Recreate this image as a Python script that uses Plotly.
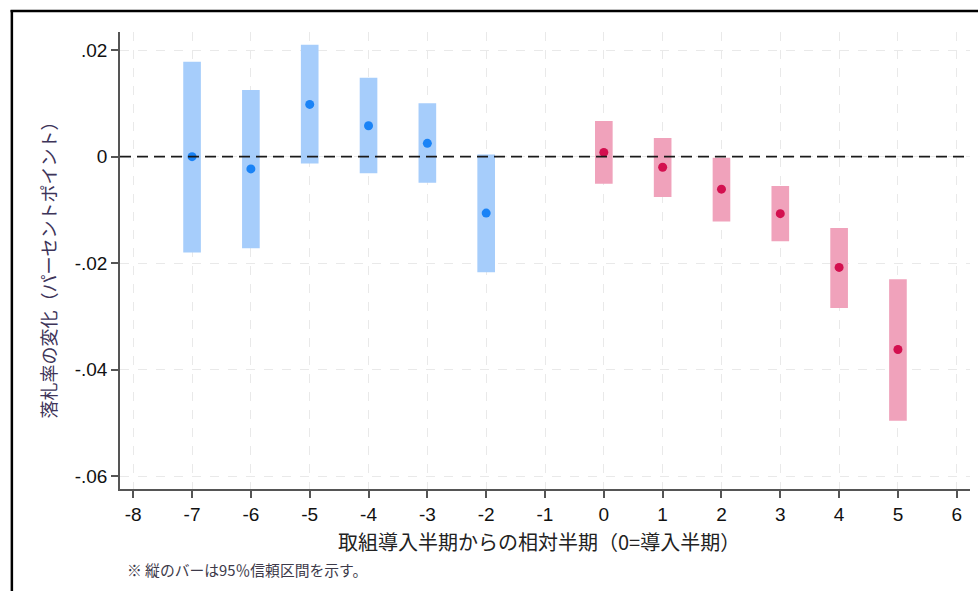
import plotly.graph_objects as go

# Event-study estimates with 95% confidence intervals
pre_periods = [-7, -6, -5, -4, -3, -2]
pre_coef = [0.0000, -0.0023, 0.0098, 0.0058, 0.0025, -0.0106]
pre_lo = [-0.0180, -0.0172, -0.0013, -0.0031, -0.0049, -0.0217]
pre_hi = [0.0178, 0.0125, 0.0210, 0.0148, 0.0100, 0.0004]

post_periods = [0, 1, 2, 3, 4, 5]
post_coef = [0.0008, -0.0020, -0.0061, -0.0107, -0.0208, -0.0362]
post_lo = [-0.0051, -0.0076, -0.0122, -0.0159, -0.0284, -0.0496]
post_hi = [0.0067, 0.0035, -0.0002, -0.0055, -0.0134, -0.0230]

x_ticks = list(range(-8, 7))
y_ticks = [0.02, 0, -0.02, -0.04, -0.06]
y_tick_text = [".02", "0", "-.02", "-.04", "-.06"]

BLUE_BAR, BLUE_DOT = "#a6cdfb", "#1a83f6"
PINK_BAR, PINK_DOT = "#f0a2bb", "#d3104f"

fig = go.Figure()

for xs, lo, hi, col in [(pre_periods, pre_lo, pre_hi, BLUE_BAR),
                        (post_periods, post_lo, post_hi, PINK_BAR)]:
    fig.add_trace(go.Bar(
        x=xs, base=lo, y=[h - l for h, l in zip(hi, lo)],
        width=0.3, marker=dict(color=col, line=dict(width=0)),
        showlegend=False, hoverinfo="skip"))

for xs, ys, col in [(pre_periods, pre_coef, BLUE_DOT),
                    (post_periods, post_coef, PINK_DOT)]:
    fig.add_trace(go.Scatter(
        x=xs, y=ys, mode="markers",
        marker=dict(color=col, size=9, line=dict(width=0)),
        showlegend=False))

# zero reference line
fig.add_hline(y=0, line=dict(color="#1a1a1a", width=1.8, dash="11px,6px"), layer="above")

tick_font = dict(family="Liberation Sans, Arial, sans-serif", size=19, color="#111111")
axis_col = "#555555"

fig.update_xaxes(
    range=[-8.225, 6.225], tickvals=x_ticks, ticktext=[str(v) for v in x_ticks],
    showline=True, linecolor=axis_col, linewidth=1.5,
    ticks="outside", ticklen=7, tickwidth=1.5, tickcolor=axis_col,
    showgrid=True, gridcolor="#e9e9e9", gridwidth=1, griddash="dash",
    zeroline=False, tickfont=tick_font, fixedrange=True)
fig.update_yaxes(
    range=[-0.0624, 0.0234], tickvals=y_ticks, ticktext=y_tick_text,
    showline=True, linecolor=axis_col, linewidth=1.5,
    ticks="outside", ticklen=7, tickwidth=1.5, tickcolor=axis_col,
    showgrid=True, gridcolor="#e9e9e9", gridwidth=1, griddash="dash",
    zeroline=False, tickfont=tick_font, fixedrange=True)

W, H = 978, 591
L, R, T, B = 119.5, 8, 32, 102
pw, ph = W - L - R, H - T - B


def px(x):
    return (x - L) / pw


def py(y):
    return (H - B - y) / ph


cjk = "Noto Sans CJK JP, sans-serif"
fig.update_layout(
    width=W, height=H,
    margin=dict(l=L, r=R, t=T, b=B),
    plot_bgcolor="white", paper_bgcolor="white",
    barmode="overlay",
    annotations=[
        dict(text="落札率の変化（パーセントポイント）", textangle=-90,
             x=px(47), y=py(266), xref="paper", yref="paper",
             xanchor="center", yanchor="middle",
             showarrow=False, font=dict(family=cjk, size=18, color="#3d3459")),
        dict(text="取組導入半期からの相対半期（0=導入半期）",
             x=px(539), y=py(541), xref="paper", yref="paper",
             xanchor="center", yanchor="middle",
             showarrow=False, font=dict(family=cjk, size=20, color="#222222")),
        dict(text="※ 縦のバーは95％信頼区間を示す。", xanchor="left", yanchor="middle",
             x=px(125), y=py(569), xref="paper", yref="paper",
             showarrow=False, font=dict(family=cjk, size=14.8, color="#3d3a4a")),
    ],
    shapes=[
        dict(type="line", xref="paper", yref="paper",
             x0=px(0), x1=px(W + 5), y0=py(9), y1=py(9),
             line=dict(color="#bbbbbb", width=1)),
        dict(type="line", xref="paper", yref="paper",
             x0=px(10), x1=px(W + 5), y0=py(11), y1=py(11),
             line=dict(color="#000000", width=2.5)),
        dict(type="line", xref="paper", yref="paper",
             x0=px(11.3), x1=px(11.3), y0=py(10), y1=py(H + 5),
             line=dict(color="#000000", width=2.5)),
    ],
)

fig.write_html("out.html")
